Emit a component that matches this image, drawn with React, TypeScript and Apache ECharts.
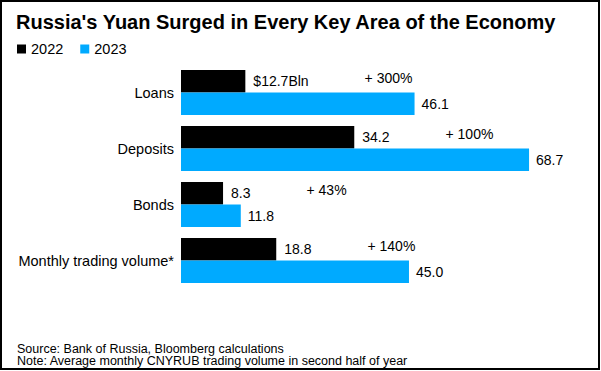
import React, { useEffect, useRef } from "react";
import * as echarts from "echarts";

const categories = ["Loans", "Deposits", "Bonds", "Monthly trading volume*"];
const values2022 = [12.7, 34.2, 8.3, 18.8];
const values2023 = [46.1, 68.7, 11.8, 45.0];
const labels2022 = ["$12.7Bln", "34.2", "8.3", "18.8"];
const labels2023 = ["46.1", "68.7", "11.8", "45.0"];
const changeLabels = ["+ 300%", "+ 100%", "+ 43%", "+ 140%"];
const seriesNames = ["2022", "2023"];
const titleText = "Russia's Yuan Surged in Every Key Area of the Economy";
const footnotes = [
  "Source: Bank of Russia, Bloomberg calculations",
  "Note: Average monthly CNYRUB trading volume in second half of year",
];

const FONT = "'Liberation Sans', Arial, sans-serif";
const BLUE = "#00aaff";

export default function App() {
  const ref = useRef<HTMLDivElement>(null);
  useEffect(() => {
    if (!ref.current) return;
    const chart = echarts.init(ref.current, undefined, { renderer: "svg" });
    chart.setOption({
      animation: false,
      backgroundColor: "#ffffff",
      textStyle: { fontFamily: FONT },
      title: {
        text: titleText,
        left: 16,
        top: 12,
        padding: 0,
        textStyle: { fontFamily: FONT, fontSize: 20, fontWeight: "bold", color: "#000" },
      },
      legend: {
        left: 17,
        top: 41.5,
        padding: 0,
        icon: "rect",
        itemWidth: 9,
        itemHeight: 9,
        itemGap: 17,
        data: seriesNames,
        textStyle: { fontFamily: FONT, fontSize: 14.5, color: "#000" },
      },
      grid: { left: 181, top: 64.5, width: 405.3, height: 224 },
      xAxis: { type: "value", min: 0, max: 80, show: false },
      yAxis: {
        type: "category",
        data: categories,
        inverse: true,
        axisLine: { show: false },
        axisTick: { show: false },
        axisLabel: { margin: 7, fontFamily: FONT, fontSize: 14.5, color: "#000" },
      },
      series: [
        {
          name: seriesNames[0],
          type: "bar",
          data: values2022,
          barGap: "0%",
          barCategoryGap: "20%",
          itemStyle: { color: "#000000" },
          label: {
            show: true,
            position: "right",
            distance: 8,
            formatter: (p: any) => `{v|${labels2022[p.dataIndex]}}{p|${changeLabels[p.dataIndex]}}`,
            rich: {
              v: { fontFamily: FONT, fontSize: 14, color: "#000", verticalAlign: "middle" },
              p: {
                fontFamily: FONT,
                fontSize: 14,
                color: "#000",
                padding: [0, 0, 7, 56],
                verticalAlign: "middle",
              },
            },
          },
        },
        {
          name: seriesNames[1],
          type: "bar",
          data: values2023,
          barGap: "0%",
          barCategoryGap: "20%",
          itemStyle: { color: BLUE },
          label: {
            show: true,
            position: "right",
            distance: 7,
            fontFamily: FONT,
            fontSize: 14,
            color: "#000",
            formatter: (p: any) => labels2023[p.dataIndex],
          },
        },
      ],
      graphic: [
        {
          type: "rect",
          silent: true,
          shape: { x: 1, y: 1, width: 598, height: 368 },
          style: { fill: "none", stroke: "#000", lineWidth: 2 },
          z: 100,
        },
        ...footnotes.map((t, i) => ({
          type: "text",
          left: 17,
          top: 342 + i * 12.5,
          style: { text: t, font: `12.5px ${FONT}`, fill: "#000" },
        })),
      ],
    });
    return () => chart.dispose();
  }, []);
  return (
    <div
      ref={ref}
      style={{ position: "fixed", left: 0, top: 0, width: 601, height: 371 }}
    />
  );
}
